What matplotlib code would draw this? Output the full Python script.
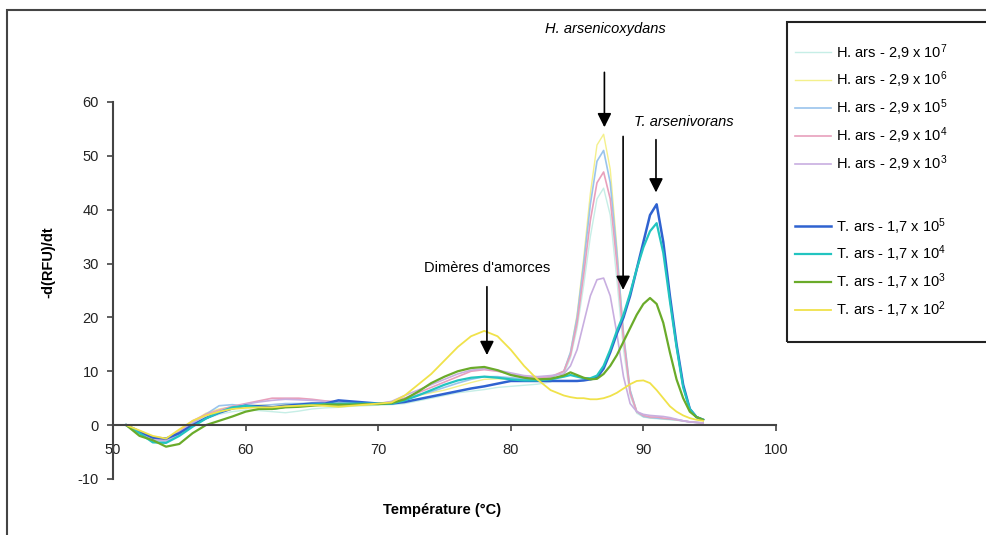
import numpy as np
import matplotlib.pyplot as plt
from matplotlib.lines import Line2D
from matplotlib.patches import Rectangle

plt.rcParams['font.family'] = ['Liberation Sans', 'DejaVu Sans']
plt.rcParams['mathtext.fontset'] = 'custom'
plt.rcParams['mathtext.rm'] = 'Liberation Sans'
plt.rcParams['mathtext.it'] = 'Liberation Sans:italic'
plt.rcParams['axes.unicode_minus'] = False

# températures (°C)
temp = [51, 52, 53, 54, 55, 56, 57, 58, 59, 60,
        61, 62, 63, 64, 65, 66, 67, 68, 69, 70,
        71, 72, 73, 74, 75, 76, 77, 78, 79, 80,
        81, 82, 83, 84,
        84.5, 85, 85.5, 86, 86.5, 87, 87.5, 88, 88.5, 89, 89.5,
        90, 90.5, 91, 91.5, 92, 92.5, 93, 93.5, 94, 94.5]

# -d(RFU)/dt pour chaque dilution
h_ars_7 = [0, -1.2, -2.4, -3.0, -2.0, -0.2, 1.2, 2.0, 2.5, 2.8,
           2.7, 2.5, 2.3, 2.6, 3.0, 3.2, 3.3, 3.5, 3.6, 3.7,
           3.8, 4.0, 4.5, 5.0, 5.5, 6.0, 6.3, 6.6, 7.0, 7.2,
           7.4, 7.6, 8.0, 9.5,
           12.5, 18, 26, 35, 42, 44, 39, 27, 14, 5.5, 2.2,
           1.5, 1.3, 1.2, 1.1, 1.0, 0.9, 0.7, 0.6, 0.5, 0.4]
h_ars_6 = [0, -1.0, -2.2, -2.6, -1.2, 0.6, 2.2, 3.0, 3.4, 3.6,
           3.7, 3.8, 3.9, 3.8, 3.7, 3.6, 3.6, 3.7, 3.8, 3.9,
           4.1, 4.8, 5.5, 6.0, 6.5, 7.2, 7.9, 8.5, 8.6, 8.5,
           8.3, 8.2, 8.8, 10.0,
           13.5, 20.5, 31, 43, 52, 54, 47.5, 33, 17, 6.5, 2.5,
           1.6, 1.4, 1.3, 1.2, 1.1, 1.0, 0.8, 0.6, 0.5, 0.4]
h_ars_5 = [0, -1.4, -2.8, -3.0, -1.6, 0.4, 2.0, 3.6, 3.8, 3.5,
           3.6, 3.8, 4.0, 4.0, 4.1, 4.1, 4.0, 4.0, 4.0, 4.0,
           4.2, 5.0, 5.6, 6.2, 7.0, 7.8, 8.5, 9.0, 9.0, 8.8,
           8.6, 8.5, 8.8, 10.0,
           13.5, 20, 30, 41, 49, 51, 45, 32, 17, 6.5, 2.5,
           1.6, 1.4, 1.3, 1.2, 1.1, 1.0, 0.8, 0.6, 0.5, 0.4]
h_ars_4 = [0, -1.3, -2.5, -2.7, -1.2, 0.8, 2.0, 2.8, 3.5, 4.0,
           4.5, 5.0, 5.0, 5.0, 4.8, 4.5, 4.3, 4.2, 4.0, 4.0,
           4.3, 5.0, 6.0, 7.0, 8.0, 9.0, 10.0, 10.3, 10.0, 9.5,
           9.0, 8.8, 9.0, 10.0,
           13, 19, 28, 38, 45, 47, 42, 30, 16, 6, 2.5,
           1.8, 1.5, 1.5, 1.3, 1.2, 1.0, 0.8, 0.6, 0.5, 0.4]
h_ars_3 = [0, -1.2, -2.6, -2.9, -1.5, 0.5, 1.8, 2.6, 3.3, 3.9,
           4.3, 4.6, 4.8, 4.7, 4.6, 4.4, 4.3, 4.1, 4.0, 4.0,
           4.4, 5.5, 6.5, 7.5, 8.5, 9.5, 10.2, 10.5, 10.2, 9.7,
           9.2, 9.0, 9.2, 9.5,
           11, 14, 19, 24, 27, 27.3, 24, 17, 9, 4, 2.5,
           2.0, 1.8, 1.7, 1.6, 1.4, 1.1, 0.8, 0.6, 0.5, 0.4]
t_ars_5 = [0, -1.2, -2.3, -2.5, -1.5, 0, 1.3, 2.3, 3.1, 3.6,
           3.5, 3.3, 3.6, 3.8, 4.0, 4.0, 4.6, 4.4, 4.2, 4.0,
           4.0, 4.3, 4.8, 5.3, 5.8, 6.3, 6.8, 7.2, 7.7, 8.2,
           8.2, 8.2, 8.2, 8.2,
           8.2, 8.2, 8.3, 8.5, 8.8, 10.5, 13.5, 17, 20, 24, 29,
           34, 39, 41, 34, 24, 15, 7.5, 3, 1.5, 1]
t_ars_4 = [0, -1.5, -3.2, -3.3, -2.0, -0.3, 1.2, 2.4, 3.3, 3.6,
           3.3, 3.0, 3.4, 3.6, 3.8, 3.9, 4.0, 4.0, 4.0, 4.0,
           4.0, 4.6, 5.5, 6.5, 7.5, 8.3, 8.8, 9.0, 8.8, 8.5,
           8.3, 8.3, 8.5, 9.0,
           9.3, 9.0, 8.7, 8.7, 9.2, 11, 14, 17.5, 20.5, 24.5, 29,
           33, 36, 37.5, 32, 23, 14.5, 7, 3, 1.5, 1]
t_ars_3 = [0, -2.0, -2.8, -4.0, -3.5, -1.5, 0, 0.8, 1.6, 2.5,
           3.0, 3.0, 3.3, 3.4, 3.6, 3.8, 3.8, 3.8, 3.9, 3.9,
           4.1, 4.8, 6.2, 7.8, 9.0, 10.0, 10.6, 10.8, 10.2, 9.3,
           8.8, 8.5, 8.6, 9.2,
           9.8, 9.3, 8.8, 8.5, 8.6, 9.5, 11, 13, 15.5, 18, 20.5,
           22.5, 23.6, 22.5, 19, 13.5, 8.5, 5, 2.5, 1.5, 1]
t_ars_2 = [0, -1.0, -2.0, -2.5, -0.8, 0.8, 1.8, 2.5, 3.0, 3.2,
           3.3, 3.3, 3.5, 3.6, 3.7, 3.6, 3.4, 3.6, 3.8, 4.0,
           4.2, 5.5, 7.5, 9.5, 12.0, 14.5, 16.5, 17.5, 16.5, 14.0,
           11.0, 8.5, 6.5, 5.5,
           5.2, 5.0, 5.0, 4.8, 4.8, 5.0, 5.4, 6.0, 6.8, 7.6, 8.2,
           8.3, 7.8, 6.5, 5.0, 3.5, 2.5, 1.8, 1.3, 1.0, 0.8]

labels_h = ['H. ars - 2,9 x 10$^{7}$', 'H. ars - 2,9 x 10$^{6}$', 'H. ars - 2,9 x 10$^{5}$',
            'H. ars - 2,9 x 10$^{4}$', 'H. ars - 2,9 x 10$^{3}$']
labels_t = ['T. ars - 1,7 x 10$^{5}$', 'T. ars - 1,7 x 10$^{4}$', 'T. ars - 1,7 x 10$^{3}$',
            'T. ars - 1,7 x 10$^{2}$']

series_h = [h_ars_7, h_ars_6, h_ars_5, h_ars_4, h_ars_3]
series_t = [t_ars_5, t_ars_4, t_ars_3, t_ars_2]
colors_h = ['#c6eee6', '#f4f08c', '#9ac4ec', '#e8a0bc', '#c8aee0']
colors_t = ['#2f62d0', '#22c4c0', '#6aab2a', '#f0e24a']
lw_h = [1.0, 1.0, 1.2, 1.2, 1.2]
lw_t = [1.8, 1.6, 1.6, 1.3]

fig = plt.figure(figsize=(9.87, 5.35), dpi=100)
ax = fig.add_axes([0.1145, 0.1047, 0.6717, 0.7047])

# courbes
handles_h = []
for y, c, w, lab in zip(series_h, colors_h, lw_h, labels_h):
    ax.plot(temp, y, color=c, lw=w)
    handles_h.append(Line2D([], [], color=c, lw=w, label=lab))
handles_t = []
for y, c, w, lab in zip(series_t, colors_t, lw_t, labels_t):
    ax.plot(temp, y, color=c, lw=w)
    handles_t.append(Line2D([], [], color=c, lw=w, label=lab))

# axes
ax.set_xlim(50, 100)
ax.set_ylim(-10, 60)
ax.set_xticks(np.arange(50, 101, 10))
ax.set_yticks(np.arange(-10, 61, 10))
ax.spines['top'].set_visible(False)
ax.spines['right'].set_visible(False)
ax.spines['bottom'].set_position(('data', 0))
for s in ['left', 'bottom']:
    ax.spines[s].set_color('#444444')
    ax.spines[s].set_linewidth(1.5)
ax.tick_params(axis='x', direction='out', length=4, width=1.2, color='#444444', pad=9, labelsize=10.5, labelcolor='#222222')
ax.tick_params(axis='y', direction='out', length=4, width=1.2, color='#444444', pad=6, labelsize=10.5, labelcolor='#222222')

fig.text(48 / 987, 1 - 262 / 535, '-d(RFU)/dt', rotation=90, ha='center', va='center',
         fontsize=10.5, fontweight='bold')
fig.text(442 / 987, 1 - 510 / 535, 'Température (°C)', ha='center', va='center',
         fontsize=10.5, fontweight='bold')

# flèches et annotations
arrow = dict(arrowstyle='-|>,head_length=0.7,head_width=0.35', color='black', lw=1.2,
             mutation_scale=12, shrinkA=0, shrinkB=0)
ax.annotate('', xy=(87.06, 55.3), xytext=(87.06, 65.5), arrowprops=arrow, annotation_clip=False)
ax.annotate('', xy=(90.95, 43.2), xytext=(90.95, 53.0), arrowprops=arrow, annotation_clip=False)
ax.annotate('', xy=(88.47, 25.1), xytext=(88.47, 53.6), arrowprops=arrow, annotation_clip=False)
ax.annotate('', xy=(78.2, 13.0), xytext=(78.2, 25.7), arrowprops=arrow, annotation_clip=False)
ax.text(87.13, 73.5, 'H. arsenicoxydans', style='italic', ha='center', va='center', fontsize=10.5, clip_on=False)
ax.text(93.02, 56.2, 'T. arsenivorans', style='italic', ha='center', va='center', fontsize=10.5, clip_on=False)
ax.text(78.2, 29.2, "Dimères d'amorces", ha='center', va='center', fontsize=10.5, clip_on=False)

# légende (deux groupes)
leg_opts = dict(loc='upper left', frameon=False, fontsize=10.5, handlelength=2.5, handletextpad=0.3,
                labelspacing=0.5, borderpad=0, borderaxespad=0)
leg1 = fig.legend(handles=handles_h, bbox_to_anchor=(795 / 987, 1 - 42 / 535), **leg_opts)
leg2 = fig.legend(handles=handles_t, bbox_to_anchor=(795 / 987, 1 - 216 / 535), **leg_opts)
fig.add_artist(Rectangle((787 / 987, 1 - 342 / 535), 0.3, 320 / 535, transform=fig.transFigure,
                         fill=False, edgecolor='#222222', lw=1.5, clip_on=False))
# cadre extérieur
fig.add_artist(Rectangle((7 / 987, -0.05), 1.1, 1 - 10 / 535 + 0.05, transform=fig.transFigure,
                         fill=False, edgecolor='#444444', lw=1.5, clip_on=False))

plt.savefig('out.png', dpi=100)
